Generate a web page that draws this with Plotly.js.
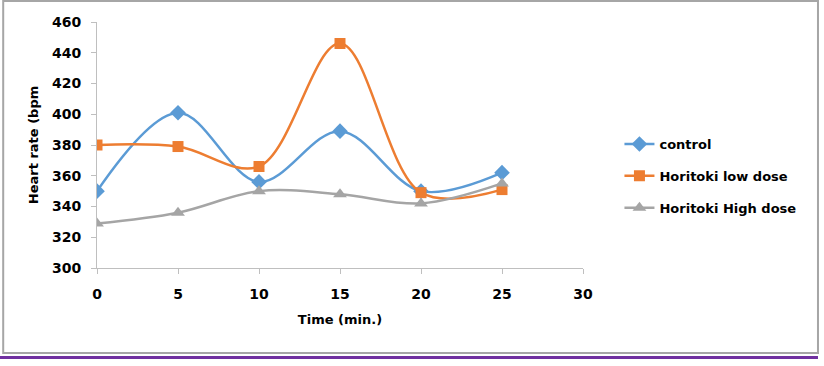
<!DOCTYPE html>
<html>
<head>
<meta charset="utf-8">
<script src="https://cdn.plot.ly/plotly-3.0.1.min.js"></script>
<style>html,body{margin:0;padding:0;background:#fff}#chart{width:824px;height:366px}</style>
</head>
<body>
<div id="chart"></div>
<script>
const time = [0, 5, 10, 15, 20, 25];
const control = [350, 401, 356, 389, 350, 362];
const lowDose = [380, 379, 366, 446, 349, 351];
const highDose = [329, 336, 350, 348, 342, 355];
const seriesNames = ["control", "Horitoki low dose", "Horitoki High dose"];
const xTicks = [0, 5, 10, 15, 20, 25, 30];
const yTicks = [300, 320, 340, 360, 380, 400, 420, 440, 460];
const colors = ["#5B9BD5", "#ED7D31", "#A5A5A5"];
const symbols = ["diamond", "square", "triangle-up"];
const sizes = [12, 11, 12];

const font = "'DejaVu Sans', sans-serif";
const allY = [control, lowDose, highDose];
const traces = allY.map((y, i) => ({
  x: time, y: y, name: "<b>" + seriesNames[i] + "</b>", type: "scatter", mode: "lines+markers",
  legendgroup: "g" + i,
  line: {color: colors[i], width: 2.5, shape: "spline", smoothing: 1},
  marker: {color: colors[i], symbol: symbols[i], size: sizes[i]}
}));

const layout = {
  width: 824, height: 366,
  margin: {l: 97, r: 241, t: 22, b: 98},
  paper_bgcolor: "#fff", plot_bgcolor: "#fff",
  showlegend: true,
  font: {family: font, color: "#000", size: 13},
  xaxis: {
    range: [0, 30], tickvals: xTicks, ticktext: xTicks.map(v => "<b>" + v + "</b>"),
    showgrid: false, zeroline: false, showline: true, linecolor: "#BFBFBF", linewidth: 1,
    ticks: "outside", ticklen: 5, tickcolor: "#BFBFBF", tickfont: {size: 14},
    ticklabelstandoff: 8,
    title: {text: "<b>Time (min.)</b>", font: {size: 13}, standoff: 14}
  },
  yaxis: {
    range: [300, 460], tickvals: yTicks, ticktext: yTicks.map(v => "<b>" + v + "</b>"),
    showgrid: false, zeroline: false, showline: true, linecolor: "#BFBFBF", linewidth: 1,
    ticks: "outside", ticklen: 5, tickcolor: "#BFBFBF", tickfont: {size: 14},
    ticklabelstandoff: 7,
    title: {text: "<b>Heart rate (bpm</b>", font: {size: 13}, standoff: 10}
  },
  legend: {
    x: 1.075, y: 0.374, xanchor: "left", yanchor: "middle",
    traceorder: "grouped", tracegroupgap: 12,
    font: {size: 13}, bgcolor: "rgba(0,0,0,0)"
  },
  shapes: [
    {type: "rect", xref: "paper", yref: "paper", x0: -0.193, x1: 1.4835, y0: -0.3455, y1: 1.0854,
     line: {color: "#A6A6A6", width: 2}, fillcolor: "rgba(0,0,0,0)", layer: "below"},
    {type: "line", xref: "paper", yref: "paper", x0: -0.2, x1: 1.4835, y0: -0.3638, y1: -0.3638,
     line: {color: "#7030A0", width: 3}}
  ]
};
Plotly.newPlot("chart", traces, layout, {displayModeBar: false, staticPlot: true});
</script>
</body>
</html>
